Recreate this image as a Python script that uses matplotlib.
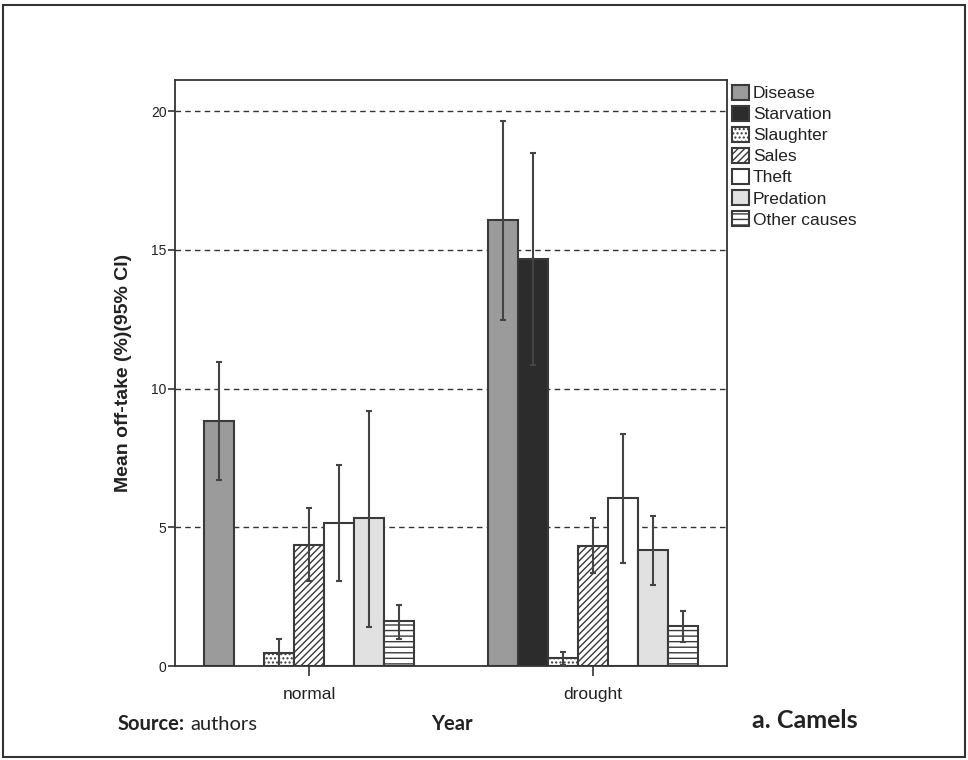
import matplotlib.pyplot as plt
import numpy as np
from matplotlib.patches import Patch, Rectangle

years = ['normal', 'drought']
causes = ['Disease', 'Starvation', 'Slaughter', 'Sales', 'Theft',
          'Predation', 'Other causes']

# mean off-take (%) and 95% CI bounds, one entry per cause
normal_mean = [8.83, np.nan, 0.47, 4.36, 5.15, 5.33, 1.62]
normal_low = [6.71, np.nan, 0.0, 3.05, 3.05, 1.41, 0.99]
normal_high = [10.95, np.nan, 0.98, 5.68, 7.24, 9.19, 2.20]

drought_mean = [16.06, 14.66, 0.29, 4.33, 6.05, 4.17, 1.43]
drought_low = [12.47, 10.85, 0.05, 3.35, 3.72, 2.92, 0.88]
drought_high = [19.65, 18.47, 0.49, 5.32, 8.37, 5.40, 2.00]

faces = ['#9b9b9b', '#2c2c2c', 'white', 'white', 'white', '#e1e1e1', 'white']
hatches = [None, None, '....', '/////', None, None, '---']
edge = '#3a3a3a'

plt.rcParams['font.family'] = ['Liberation Sans', 'DejaVu Sans']
plt.rcParams['hatch.linewidth'] = 1.0

fig = plt.figure(figsize=(9.68, 7.6), dpi=100)
ax = fig.add_axes([175 / 968, 1 - 666 / 760, (727 - 175) / 968, (666 - 80) / 760])

width = 30 / 284
x = np.arange(len(years))
means = [normal_mean, drought_mean]
lows = [normal_low, drought_low]
highs = [normal_high, drought_high]

for g in range(len(years)):
    for i, cause in enumerate(causes):
        m = means[g][i]
        if np.isnan(m):
            continue
        xpos = x[g] + (i - 3) * width
        ax.bar(xpos, m, width, color=faces[i], edgecolor=edge, linewidth=1.5,
               hatch=hatches[i], zorder=2)
        ax.errorbar(xpos, m, yerr=[[m - lows[g][i]], [highs[g][i] - m]],
                    fmt='none', ecolor='#444444', elinewidth=1.5,
                    capsize=2.5, capthick=1.5, zorder=3)

for yv in [5, 10, 15, 20]:
    ax.axhline(yv, color='#333333', linewidth=1.0, linestyle=(0, (4, 3)), zorder=1)

ax.set_xlim(-0.472, 1.472)
ax.set_ylim(0, 20 * (666 - 80) / (666 - 111))
ax.set_yticks([0, 5, 10, 15, 20])
ax.set_xticks(x)
ax.set_xticklabels(years, fontsize=12.5)
ax.tick_params(axis='y', labelsize=10, length=5, width=1.2, pad=1, colors='#333333')
ax.tick_params(axis='x', length=7, width=1.2, pad=8, colors='#333333')
for lab in ax.get_xticklabels() + ax.get_yticklabels():
    lab.set_color('#222222')
for s in ax.spines.values():
    s.set_linewidth(1.3)
    s.set_color('#333333')

ax.set_ylabel('Mean off-take (%)(95% CI)', fontsize=14, fontweight='bold',
              color='#222222', labelpad=14)

handles = [Patch(facecolor=faces[i], edgecolor=edge, hatch=hatches[i],
                 linewidth=1.5, label=c) for i, c in enumerate(causes)]
ax.legend(handles=handles, loc='upper left', bbox_to_anchor=(0.99, 1.01),
          frameon=False, fontsize=12.5, handlelength=1.0, handleheight=1.0,
          handletextpad=0.2, labelspacing=0.25, borderaxespad=0.2,
          labelcolor='#222222')

# caption texts below the chart
cap_font = ['Lato', 'DejaVu Sans']
fig.text(118 / 968, 1 - 724 / 760, 'Source:', fontsize=14.5, fontweight='bold',
         family=cap_font, color='#222222', va='center', ha='left')
fig.text(190 / 968, 1 - 724 / 760, 'authors', fontsize=14.5,
         family=cap_font, color='#222222', va='center', ha='left')
fig.text(452 / 968, 1 - 724 / 760, 'Year', fontsize=14.5, fontweight='bold',
         family=cap_font, color='#222222', va='center', ha='center')
fig.text(752 / 968, 1 - 721 / 760, 'a. Camels', fontsize=18, fontweight='bold',
         family=cap_font, color='#222222', va='center', ha='left')

# outer frame
fig.patches.append(Rectangle((3 / 968, 0.004), 962 / 968, 1 - 5 / 760 - 0.004,
                             transform=fig.transFigure, fill=False,
                             edgecolor='#333333', linewidth=1.5))

fig.savefig('out.png', dpi=100)
